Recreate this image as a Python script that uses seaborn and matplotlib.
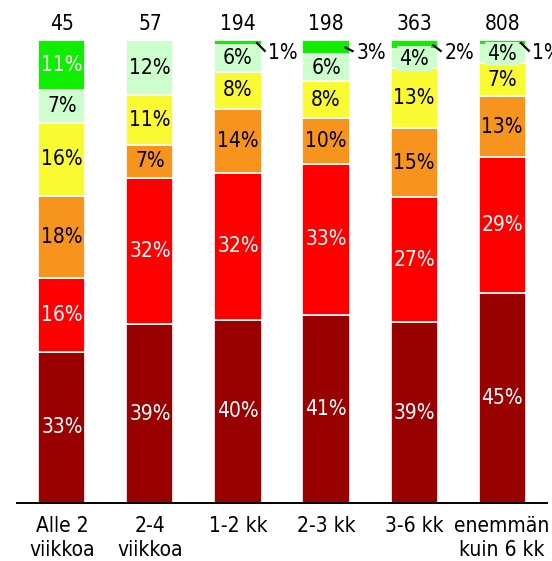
import numpy as np
import matplotlib
matplotlib.use("Agg")
import matplotlib.pyplot as plt
import seaborn as sns

# ===================== DATA =====================
categories = ["Alle 2\nviikkoa", "2-4\nviikkoa", "1-2 kk", "2-3 kk", "3-6 kk", "enemmän\nkuin 6 kk"]
counts = [45, 57, 194, 198, 363, 808]

# shares in %, stacked from bottom to top
dark_red = [33, 39, 40, 41, 39, 45]
red = [16, 32, 32, 33, 27, 29]
orange = [18, 7, 14, 10, 15, 13]
yellow = [16, 11, 8, 8, 13, 7]
light_green = [7, 12, 6, 6, 4, 4]
green = [11, 0, 1, 3, 2, 1]

layers = [
    (dark_red, "#990000", "white"),
    (red, "#FF0000", "white"),
    (orange, "#F7941E", "black"),
    (yellow, "#FAFA32", "black"),
    (light_green, "#CCFFCC", "black"),
    (green, "#10EE00", "white"),
]

# ===================== STYLE =====================
sns.set_style("white")
plt.rcParams["font.family"] = ["DejaVu Sans"]
plt.rcParams["font.stretch"] = "condensed"
plt.rcParams["text.color"] = "black"
plt.rcParams["xtick.color"] = "black"
FS = 15

fig = plt.figure(figsize=(5.52, 5.61), dpi=100)
ax = fig.add_axes([17 / 552, 1 - 503 / 561, 530 / 552, 463 / 561])

totals = np.sum([np.array(v, dtype=float) for v, _, _ in layers], axis=0)
xpos = np.arange(len(categories))
bar_w = 0.535

# ===================== BARS =====================
bottom = np.zeros(len(categories))
for vals, col, txt_col in layers:
    share = np.array(vals, dtype=float) / totals
    sns.barplot(x=categories, y=share, order=categories, color=col, saturation=1,
                width=bar_w, bottom=bottom, edgecolor="white", linewidth=1.2, ax=ax)
    for i, v in enumerate(vals):
        if v == 0:
            continue
        mid = bottom[i] + share[i] / 2
        if col == "#10EE00" and v <= 3:
            # small top slice -> label outside with a leader line
            right = i + bar_w / 2
            ax.plot([right - 0.06, right + 0.045], [mid, 0.975], color="black",
                    lw=1.6, clip_on=False, solid_capstyle="butt")
            ax.text(right + 0.075, 0.972, f"{v}%", ha="left", va="center",
                    fontsize=FS, color="black", clip_on=False)
        elif col == "#CCFFCC" and v < 5:
            ax.text(i, mid, f"{v}%", ha="center", va="center", fontsize=FS, color=txt_col,
                    bbox=dict(facecolor=col, edgecolor="none", pad=1.5))
        else:
            ax.text(i, mid, f"{v}%", ha="center", va="center", fontsize=FS, color=txt_col)
    bottom = bottom + share

# group sizes above bars
for i, n in enumerate(counts):
    ax.text(i, 1.034, str(n), ha="center", va="center", fontsize=FS, clip_on=False)

# ===================== AXES =====================
ax.set_xlim(-0.51, 5.51)
ax.set_ylim(0, 1)
ax.set_ylabel("")
ax.set_yticks([])
ax.set_xticks(xpos)
ax.set_xticklabels(categories, fontsize=FS)
for lab in ax.get_xticklabels():
    lab.set_linespacing(1.25)
ax.tick_params(axis="x", length=0, pad=9)
for s in ["top", "right", "left"]:
    ax.spines[s].set_visible(False)
ax.spines["bottom"].set_color("black")
ax.spines["bottom"].set_linewidth(1.4)

fig.savefig("out.png", dpi=100)
